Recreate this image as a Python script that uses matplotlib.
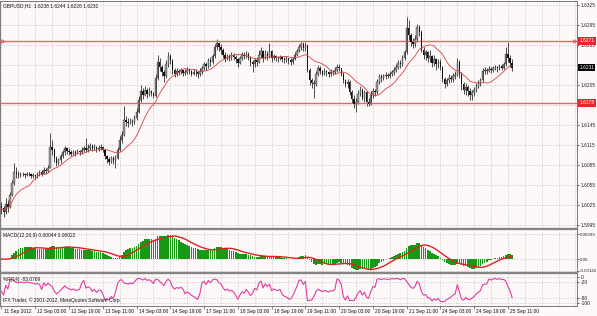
import numpy as np
import pandas as pd
import matplotlib
matplotlib.use("Agg")
import matplotlib.pyplot as plt
from matplotlib.transforms import blended_transform_factory
from matplotlib.lines import Line2D

# ---------------- data (prices in pips above 1.6000) ----------------
symbol_title = "GBPUSD,H1  1.6238 1.6244 1.6226 1.6231"
base_price = 1.6
pip = 0.0001
first_open_pips = 24
close_pips = [
    20, 14, 26, 22, 40, 58, 75, 72, 70, 72,
    71, 70, 72, 71, 69, 70, 68, 71, 74, 72,
    78, 76, 80, 112, 108, 96, 88, 92, 98, 104,
    110, 106, 104, 102, 105, 103, 106, 104, 107, 110,
    108, 111, 113, 110, 112, 109, 111, 112, 108, 98,
    94, 90, 95, 92, 96, 108, 122, 130, 152, 150,
    148, 151, 149, 155, 165, 182, 196, 190, 198, 192,
    196, 193, 189, 215, 240, 232, 224, 218, 236, 248,
    242, 228, 222, 226, 224, 227, 223, 225, 228, 226,
    222, 225, 224, 221, 226, 230, 236, 233, 242, 240,
    248, 262, 268, 262, 258, 250, 244, 248, 246, 250,
    247, 244, 238, 245, 250, 248, 252, 246, 240, 236,
    242, 240, 250, 256, 246, 252, 248, 256, 245, 248,
    246, 245, 247, 244, 243, 245, 242, 240, 244, 250,
    256, 262, 266, 260, 264, 228, 212, 208, 206, 222,
    230, 226, 222, 226, 224, 221, 225, 224, 228, 232,
    230, 222, 212, 206, 210, 194, 184, 176, 180, 192,
    198, 186, 194, 180, 176, 190, 196, 194, 210, 218,
    216, 218, 220, 219, 222, 224, 228, 232, 238, 236,
    246, 254, 290, 280, 270, 266, 274, 292, 284, 258,
    250, 254, 246, 248, 238, 244, 236, 240, 232, 214,
    206, 212, 216, 214, 218, 220, 240, 222, 206, 198,
    202, 196, 190, 194, 198, 204, 208, 212, 226, 228,
    226, 229, 227, 230, 232, 230, 233, 231, 236, 252,
    246, 238, 231,
]
high_pips = [
    30, 24, 35, 32, 44, 62, 88, 82, 76, 75,
    74, 73, 75, 74, 73, 73, 72, 74, 78, 77,
    82, 80, 85, 133, 122, 110, 98, 96, 102, 108,
    114, 112, 110, 107, 108, 107, 109, 108, 112, 114,
    125, 116, 118, 116, 116, 114, 115, 116, 113, 109,
    100, 97, 99, 98, 100, 112, 128, 136, 173, 158,
    155, 156, 154, 160, 170, 188, 205, 200, 204, 200,
    202, 198, 195, 222, 250, 245, 235, 228, 242, 254,
    252, 244, 230, 230, 229, 231, 228, 229, 232, 230,
    228, 229, 229, 226, 230, 234, 240, 240, 246, 247,
    252, 266, 274, 270, 266, 260, 254, 252, 252, 254,
    253, 250, 246, 248, 255, 254, 256, 254, 248, 242,
    246, 246, 258, 262, 258, 258, 256, 268, 258, 252,
    250, 249, 250, 249, 247, 248, 246, 245, 247, 254,
    259, 266, 270, 269, 270, 266, 230, 216, 212, 226,
    235, 233, 228, 230, 228, 226, 229, 228, 232, 236,
    236, 231, 224, 214, 214, 212, 198, 190, 186, 198,
    204, 200, 198, 196, 186, 196, 200, 199, 214, 222,
    222, 222, 224, 223, 226, 228, 232, 236, 242, 242,
    250, 258, 307, 302, 283, 276, 280, 296, 295, 288,
    262, 258, 256, 257, 250, 250, 246, 244, 244, 234,
    217, 216, 222, 220, 223, 226, 245, 242, 224, 210,
    208, 205, 200, 198, 202, 208, 212, 216, 230, 232,
    230, 233, 232, 234, 235, 234, 236, 236, 240, 262,
    270, 250, 244,
]
low_pips = [
    12, 7, 12, 15, 20, 38, 55, 66, 65, 67,
    68, 66, 68, 68, 66, 66, 64, 66, 68, 69,
    71, 72, 74, 80, 100, 90, 84, 85, 88, 96,
    100, 102, 100, 98, 100, 99, 101, 100, 102, 104,
    104, 105, 107, 106, 108, 105, 106, 108, 104, 94,
    88, 85, 88, 87, 80, 94, 106, 118, 128, 144,
    142, 146, 144, 146, 153, 163, 180, 184, 188, 186,
    189, 188, 185, 187, 212, 226, 218, 209, 215, 232,
    236, 222, 217, 219, 220, 221, 219, 220, 222, 221,
    218, 220, 219, 216, 218, 222, 227, 228, 231, 234,
    236, 246, 258, 256, 252, 246, 240, 242, 241, 243,
    242, 238, 232, 236, 243, 244, 245, 242, 234, 224,
    232, 234, 238, 246, 240, 244, 242, 246, 240, 242,
    241, 240, 242, 240, 238, 240, 237, 235, 237, 242,
    248, 254, 258, 256, 256, 224, 205, 200, 185, 204,
    218, 222, 218, 220, 219, 217, 219, 220, 221, 225,
    226, 218, 208, 202, 200, 190, 178, 170, 164, 176,
    188, 182, 180, 173, 173, 175, 186, 188, 192, 206,
    210, 212, 214, 215, 216, 218, 220, 225, 229, 230,
    234, 243, 252, 272, 264, 260, 262, 270, 278, 254,
    244, 242, 240, 240, 232, 234, 228, 230, 228, 210,
    200, 203, 208, 209, 210, 214, 218, 215, 198, 192,
    190, 188, 182, 183, 188, 195, 200, 204, 210, 222,
    221, 224, 223, 225, 227, 225, 228, 227, 229, 234,
    240, 232, 226,
]
time_labels = ["11 Sep 2012", "12 Sep 03:00", "12 Sep 19:00", "13 Sep 11:00",
               "14 Sep 03:00", "14 Sep 19:00", "17 Sep 11:00", "18 Sep 03:00",
               "18 Sep 19:00", "19 Sep 11:00", "20 Sep 03:00", "20 Sep 19:00",
               "21 Sep 11:00", "24 Sep 03:00", "24 Sep 19:00", "25 Sep 11:00"]
bars_per_label = 16
price_tick_values = [1.6325, 1.6295, 1.6265, 1.6205, 1.6145, 1.6115,
                     1.6085, 1.6055, 1.6025, 1.5995]
price_grid_values = [1.6325, 1.6295, 1.6265, 1.6235, 1.6205, 1.6175, 1.6145,
                     1.6115, 1.6085, 1.6055, 1.6025, 1.5995]
hline_levels = [1.6271, 1.6178]
current_price = 1.6231
macd_tick_values = [0.00299, 0.0, -0.00142]
macd_tick_labels = ["0.00299", "0.00", "-0.00142"]
wpr_tick_values = [0, -20, -80, -100]
wpr_tick_labels = ["0", "-20", "-80", "-100"]
macd_title = "MACD(12,26,9) 0.00044 0.00022"
wpr_title = "%R(14) -83.0769"
copyright_text = "IFX Trader, \u00a9 2001-2012, MetaQuotes Software Corp."

# ---------------- derived series ----------------
close = base_price + np.array(close_pips) * pip
high = base_price + np.array(high_pips) * pip
low = base_price + np.array(low_pips) * pip
open_ = np.concatenate([[base_price + first_open_pips * pip], close[:-1]])
idx = np.arange(len(close))
cs = pd.Series(close)
ma = cs.rolling(14, min_periods=1).mean()
macd = cs.ewm(span=12, adjust=False).mean() - cs.ewm(span=26, adjust=False).mean()
signal = macd.rolling(9, min_periods=1).mean()
hh = pd.Series(high).rolling(14, min_periods=1).max()
ll = pd.Series(low).rolling(14, min_periods=1).min()
wpr = -100 * (hh - cs) / (hh - ll)

# ---------------- figure ----------------
FONT = ['Liberation Sans', 'DejaVu Sans']
FS = 3.5
bg = '#fdf9f9'
W, H = 597, 316
fig = plt.figure(figsize=(W / 100, H / 100), dpi=100, facecolor=bg)


def rect(x0, y0, x1, y1):
    return [x0 / W, 1 - y1 / H, (x1 - x0) / W, (y1 - y0) / H]


ax_main = fig.add_axes(rect(0, 1, 577, 228))
ax_macd = fig.add_axes(rect(0, 230.5, 577, 272), sharex=ax_main)
ax_wpr = fig.add_axes(rect(0, 274, 577, 306), sharex=ax_main)

px_per_bar = 2.11
xlim = (-1.5 / px_per_bar, (577 - 1.5) / px_per_bar)
grid_kw = dict(color='#c9c4c4', lw=0.5, linestyle=(0, (2, 2)), zorder=0.5)

for ax in (ax_main, ax_macd, ax_wpr):
    ax.set_facecolor(bg)
    ax.set_xlim(*xlim)
    for s in ax.spines.values():
        s.set_color('#7a7a7a')
        s.set_linewidth(0.7)
    ax.spines['bottom'].set_visible(False)
    ax.spines['top'].set_visible(False)
    for v in np.arange(0, xlim[1], bars_per_label / 2):
        ax.axvline(v, **grid_kw)
    ax.yaxis.tick_right()
    ax.tick_params(axis='y', length=1.6, width=0.5, pad=1.0, labelsize=FS,
                   colors='#222222')
    ax.tick_params(axis='x', bottom=False, labelbottom=False)

ax_main.spines['top'].set_visible(True)
ax_wpr.spines['bottom'].set_visible(True)

# ---- main price pane ----
ax_main.set_ylim(1.59905, 1.6331)
for lv in price_grid_values:
    ax_main.axhline(lv, **grid_kw)
ax_main.set_yticks(price_tick_values)
ax_main.set_yticklabels([f"{v:.4f}" for v in price_tick_values], family=FONT)

up = close >= open_
ax_main.vlines(idx, low, high, color='#1c1c1c', lw=0.55, zorder=2)
ax_main.bar(idx[up], (close - open_)[up], bottom=open_[up], width=0.65,
            color='#9c9c9c', edgecolor='#1c1c1c', linewidth=0.25, zorder=3)
ax_main.bar(idx[~up], (close - open_)[~up], bottom=open_[~up], width=0.65,
            color='#111111', linewidth=0, zorder=3)
ax_main.plot(idx, ma, color='#d84040', lw=0.6, zorder=4)

for lv in hline_levels:
    ax_main.axhline(lv, color='#e46a6a', lw=1.0, zorder=2.6)
tr_main = blended_transform_factory(ax_main.transAxes, ax_main.transData)
ax_main.plot([0.004, 0.994], [hline_levels[0]] * 2, 'o', transform=tr_main,
             ms=2.2, mfc='none', mec='#e04040', mew=0.5, zorder=5, clip_on=False)
for lv in hline_levels:
    ax_main.text(1.004, lv, f"{lv:.4f}", transform=tr_main, fontsize=FS,
                 family=FONT, color='white', va='center', ha='left',
                 bbox=dict(facecolor='#e8262a', edgecolor='none', pad=0.8),
                 zorder=10, clip_on=False)
ax_main.text(1.004, current_price, f"{current_price:.4f}", transform=tr_main,
             fontsize=FS, family=FONT, color='white', va='center', ha='left',
             bbox=dict(facecolor='#000000', edgecolor='none', pad=0.8),
             zorder=10, clip_on=False)
ax_main.text(0.005, 0.978, symbol_title, transform=ax_main.transAxes,
             fontsize=FS, family=FONT, va='center', ha='left', color='#111111')

# ---- MACD pane ----
ax_macd.set_ylim(-0.001555, 0.00341)
for lv in macd_tick_values:
    ax_macd.axhline(lv, **grid_kw)
ax_macd.bar(idx, macd, width=0.75, color='#169a16', linewidth=0, zorder=2)
ax_macd.plot(idx, signal, color='#e02020', lw=1.0, zorder=3)
ax_macd.set_yticks(macd_tick_values)
ax_macd.set_yticklabels(macd_tick_labels, family=FONT)
ax_macd.tick_params(axis='y', labelsize=3.2, pad=0.6)
ax_macd.text(0.005, 0.89, macd_title, transform=ax_macd.transAxes,
             fontsize=FS, family=FONT, va='center', ha='left', color='#111111')

# ---- Williams %R pane ----
ax_wpr.set_ylim(-111.5, 11.5)
for lv in wpr_tick_values:
    ax_wpr.axhline(lv, **grid_kw)
ax_wpr.plot(idx, wpr, color='#e03ca0', lw=0.8, zorder=3)
ax_wpr.set_yticks(wpr_tick_values)
ax_wpr.set_yticklabels(wpr_tick_labels, family=FONT)
ax_wpr.text(0.005, 0.84, wpr_title, transform=ax_wpr.transAxes,
            fontsize=FS, family=FONT, va='center', ha='left', color='#111111',
            zorder=4)
ax_wpr.text(0.005, 0.19, copyright_text, transform=ax_wpr.transAxes,
            fontsize=FS, family=FONT, va='center', ha='left', color='#111111',
            zorder=4)

# time axis
tick_pos = [k * bars_per_label for k in range(len(time_labels))]
ax_wpr.set_xticks(tick_pos)
ax_wpr.tick_params(axis='x', bottom=True, length=2.5, width=0.5,
                   colors='#555555', labelbottom=False)
tr_time = blended_transform_factory(ax_wpr.transData, ax_wpr.transAxes)
for p, lab in zip(tick_pos, time_labels):
    ax_wpr.text(p + 1.0, -0.16, lab, transform=tr_time, fontsize=FS,
                family=FONT, va='center', ha='left', color='#111111',
                clip_on=False)

# pane separators
for ysep in (229.4, 273.1):
    fig.add_artist(Line2D([0, 577 / W], [1 - ysep / H] * 2, transform=fig.transFigure,
                          color='#858585', lw=1.7))

fig.savefig("out.png", dpi=100, facecolor=bg)
